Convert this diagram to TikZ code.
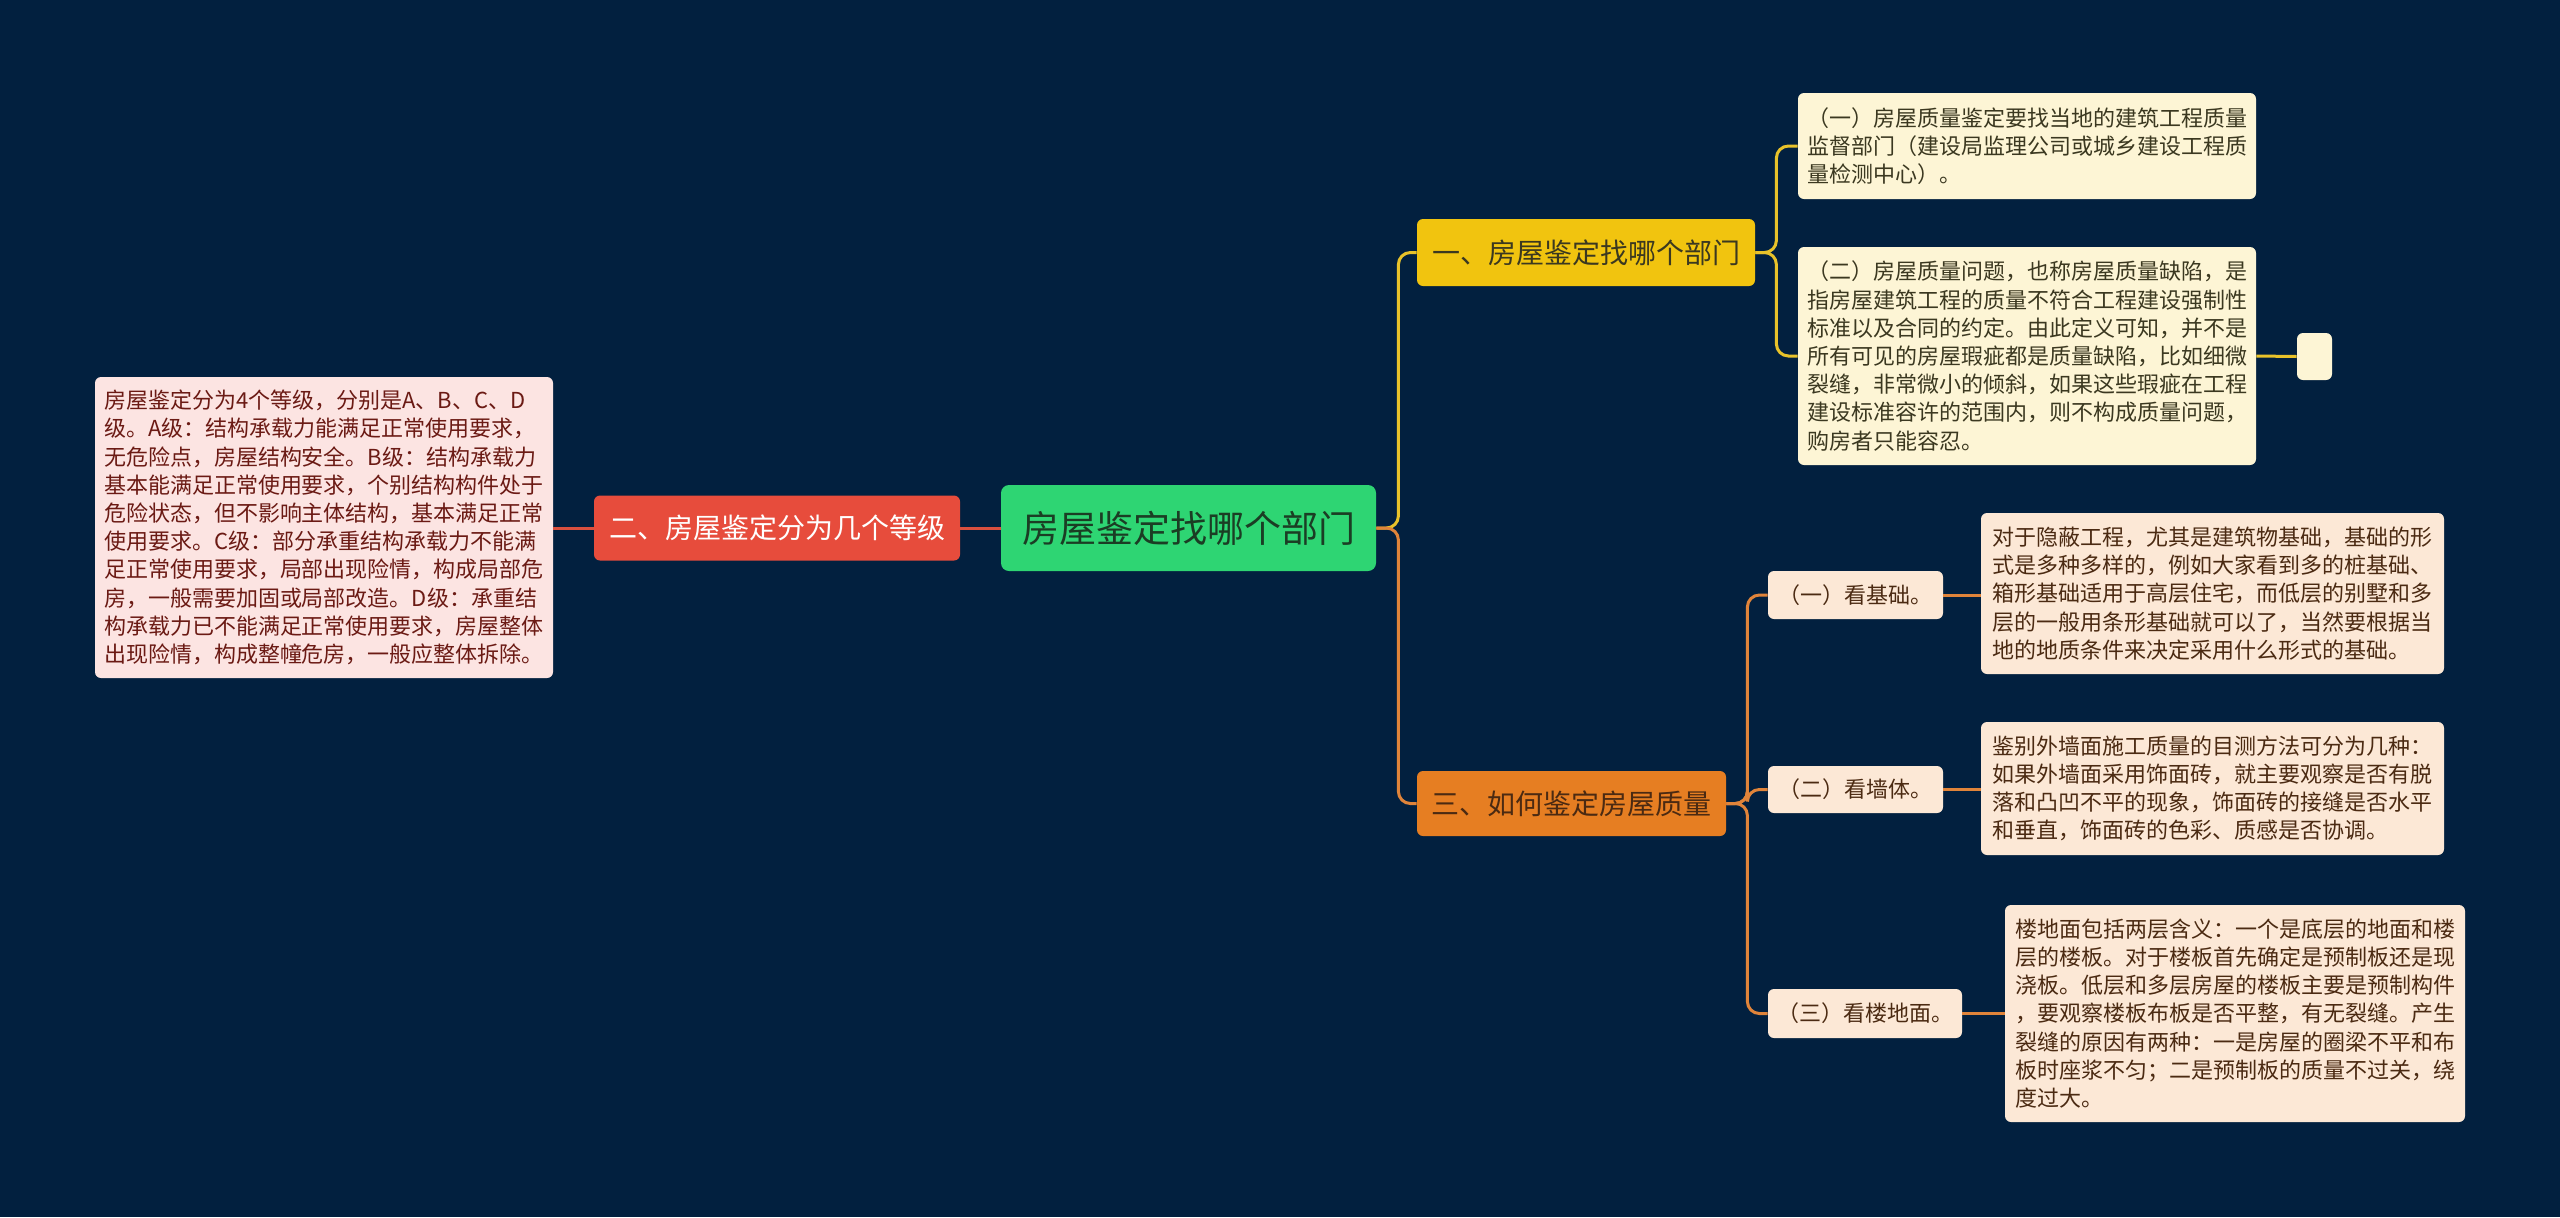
\documentclass[tikz,border=0pt]{standalone}
\usepackage{fontspec}
\setmainfont{Noto Sans CJK SC}
\definecolor{bgnavy}{HTML}{02203F}
\definecolor{rootgreen}{HTML}{2ED573}
\definecolor{roottext}{HTML}{1B3D24}
\definecolor{gradered}{HTML}{E74C3C}
\definecolor{gradeline}{HTML}{D9503F}
\definecolor{gradepink}{HTML}{FCE4E2}
\definecolor{gradetext}{HTML}{6B1A14}
\definecolor{deptyellow}{HTML}{F1C40F}
\definecolor{deptline}{HTML}{E8C22A}
\definecolor{deptcream}{HTML}{FDF5D5}
\definecolor{depttext}{HTML}{3B3820}
\definecolor{checkorange}{HTML}{E67E22}
\definecolor{checkline}{HTML}{E0843A}
\definecolor{checkpeach}{HTML}{FCE8D6}
\definecolor{checktext}{HTML}{4B2A12}
\tikzset{
  root node/.style={fill=rootgreen,text=roottext,rounded corners=4pt,inner sep=0pt,font=\fontsize{18.5}{22}\selectfont},
  main node/.style={rounded corners=3pt,inner sep=0pt,font=\fontsize{14}{17}\selectfont},
  note box/.style={rounded corners=3pt,inner sep=0pt,align=left,font=\fontsize{11}{14.1}\selectfont},
  tag box/.style={rounded corners=3pt,inner sep=0pt,font=\fontsize{11}{13}\selectfont},
  red edge/.style={draw=gradeline,line width=1.5pt},
  yellow edge/.style={draw=deptline,line width=1.5pt,rounded corners=6pt},
  orange edge/.style={draw=checkline,line width=1.5pt,rounded corners=6pt},
}
\begin{document}
\begin{tikzpicture}[x=0.5pt,y=-0.5pt]
  \fill[bgnavy] (0,0) rectangle (2560,1217);
  \node[root node,minimum width=187.5pt,minimum height=43pt] (root) at (1188.5,528) {房屋鉴定找哪个部门};
  \node[main node,fill=gradered,text=white,minimum width=183pt,minimum height=32.5pt] (grade) at (777,528) {二、房屋鉴定分为几个等级};
  \node[note box,fill=gradepink,text=gradetext,minimum width=229pt,minimum height=150.5pt] (gradeText) at (324,527.5) {房屋鉴定分为4个等级，分别是A、B、C、D\\
级。A级：结构承载力能满足正常使用要求，\\
无危险点，房屋结构安全。B级：结构承载力\\
基本能满足正常使用要求，个别结构构件处于\\
危险状态，但不影响主体结构，基本满足正常\\
使用要求。C级：部分承重结构承载力不能满\\
足正常使用要求，局部出现险情，构成局部危\\
房，一般需要加固或局部改造。D级：承重结\\
构承载力已不能满足正常使用要求，房屋整体\\
出现险情，构成整幢危房，一般应整体拆除。};
  \node[main node,fill=deptyellow,text=depttext,minimum width=169pt,minimum height=33.5pt] (dept) at (1586,252.5) {一、房屋鉴定找哪个部门};
  \node[main node,fill=checkorange,text=checktext,minimum width=154.5pt,minimum height=32.5pt] (check) at (1571.5,803.5) {三、如何鉴定房屋质量};
  \node[note box,fill=deptcream,text=depttext,minimum width=229pt,minimum height=53pt] (deptA) at (2027,146) {（一）房屋质量鉴定要找当地的建筑工程质量\\
监督部门（建设局监理公司或城乡建设工程质\\
量检测中心）。};
  \node[note box,fill=deptcream,text=depttext,minimum width=229pt,minimum height=109pt] (deptB) at (2027,356) {（二）房屋质量问题，也称房屋质量缺陷，是\\
指房屋建筑工程的质量不符合工程建设强制性\\
标准以及合同的约定。由此定义可知，并不是\\
所有可见的房屋瑕疵都是质量缺陷，比如细微\\
裂缝，非常微小的倾斜，如果这些瑕疵在工程\\
建设标准容许的范围内，则不构成质量问题，\\
购房者只能容忍。};
  \node[tag box,fill=deptcream,minimum width=17.5pt,minimum height=23.5pt] (blank) at (2314.5,356.5) {};
  \node[tag box,fill=checkpeach,text=checktext,minimum width=87.5pt,minimum height=24pt] (base) at (1855.5,595) {（一）看基础。};
  \node[tag box,fill=checkpeach,text=checktext,minimum width=87.5pt,minimum height=23.5pt] (wall) at (1855.5,789.5) {（二）看墙体。};
  \node[tag box,fill=checkpeach,text=checktext,minimum width=97pt,minimum height=24.5pt] (floor) at (1865,1013.5) {（三）看楼地面。};
  \node[note box,fill=checkpeach,text=checktext,minimum width=231.5pt,minimum height=80.5pt] (baseText) at (2212.5,593.5) {对于隐蔽工程，尤其是建筑物基础，基础的形\\
式是多种多样的，例如大家看到多的桩基础、\\
箱形基础适用于高层住宅，而低层的别墅和多\\
层的一般用条形基础就可以了，当然要根据当\\
地的地质条件来决定采用什么形式的基础。};
  \node[note box,fill=checkpeach,text=checktext,minimum width=231.5pt,minimum height=66.5pt] (wallText) at (2212.5,788.5) {鉴别外墙面施工质量的目测方法可分为几种：\\
如果外墙面采用饰面砖，就主要观察是否有脱\\
落和凸凹不平的现象，饰面砖的接缝是否水平\\
和垂直，饰面砖的色彩、质感是否协调。};
  \node[note box,fill=checkpeach,text=checktext,minimum width=230pt,minimum height=108.5pt] (floorText) at (2235,1013.5) {楼地面包括两层含义：一个是底层的地面和楼\\
层的楼板。对于楼板首先确定是预制板还是现\\
浇板。低层和多层房屋的楼板主要是预制构件\\
，要观察楼板布板是否平整，有无裂缝。产生\\
裂缝的原因有两种：一是房屋的圈梁不平和布\\
板时座浆不匀；二是预制板的质量不过关，绕\\
度过大。};
  \draw[red edge] (root.west) -- (grade.east);
  \draw[red edge] (grade.west) -- (gradeText.east |- grade.west);
  \draw[yellow edge] (root.east) -- ++(22,0) |- (dept.west);
  \draw[orange edge] (root.east) -- ++(22,0) |- (check.west);
  \draw[yellow edge] (dept.east) -- ++(21,0) |- (deptA.west);
  \draw[yellow edge] (dept.east) -- ++(21,0) |- (deptB.west);
  \draw[yellow edge] (deptB.east) -- (blank.west);
  \draw[orange edge] (check.east) -- ++(21,0) |- (base.west);
  \draw[orange edge] (check.east) -- ++(21,0) |- (wall.west);
  \draw[orange edge] (check.east) -- ++(21,0) |- (floor.west);
  \draw[orange edge] (base.east) -- (base.east -| baseText.west);
  \draw[orange edge] (wall.east) -- (wall.east -| wallText.west);
  \draw[orange edge] (floor.east) -- (floor.east -| floorText.west);
\end{tikzpicture}
\end{document}
